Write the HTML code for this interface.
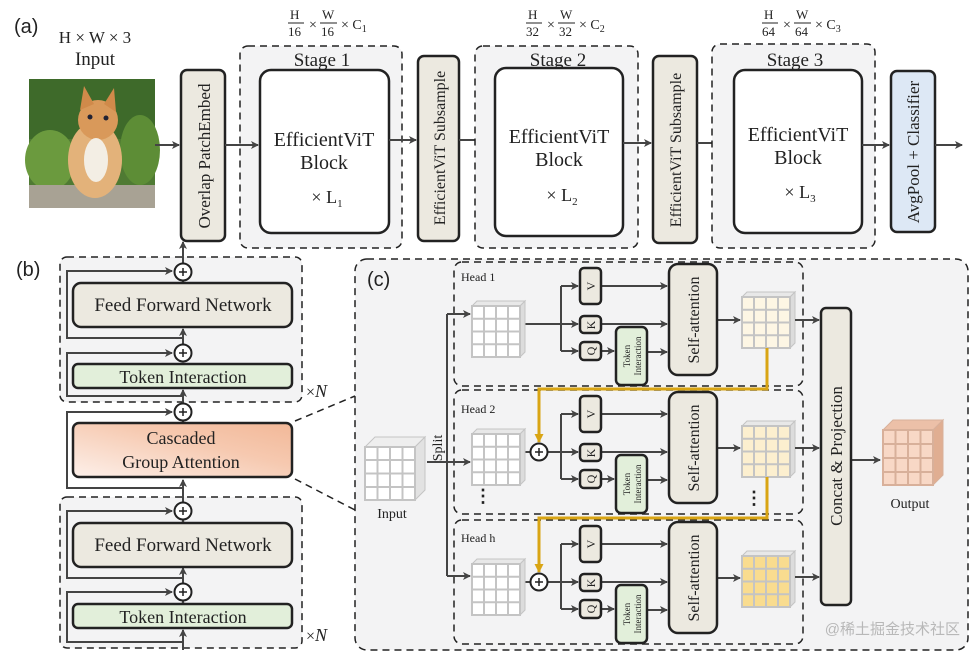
<!DOCTYPE html>
<html><head><meta charset="utf-8"><style>
html,body{margin:0;padding:0;background:#fff;}
svg{display:block;}
.s{font-family:"Liberation Serif",serif;fill:#222;}
.a{font-family:"Liberation Sans",sans-serif;fill:#222;}
</style></head><body>
<svg width="977" height="655" viewBox="0 0 977 655" xmlns="http://www.w3.org/2000/svg">
<defs>
<marker id="ar" markerWidth="8" markerHeight="8" refX="7" refY="4" orient="auto" markerUnits="userSpaceOnUse"><path d="M0,0 L8,4 L0,8 L2,4 z" fill="#444"/></marker>
<marker id="ag" markerWidth="9" markerHeight="9" refX="8" refY="4.5" orient="auto" markerUnits="userSpaceOnUse"><path d="M0,0 L9,4.5 L0,9 z" fill="#d9a514"/></marker>
<g id="cube">
<path d="M0,5 L5,0 L53,0 L48,5 z" fill="#e8e8e8" stroke="#c4c4c4" stroke-width="1"/>
<path d="M48,5 L53,0 L53,51 L48,56 z" fill="#dcdcdc" stroke="#c4c4c4" stroke-width="1"/>
<rect x="0" y="5" width="48" height="51" stroke="#c4c4c4" stroke-width="2"/>
<path d="M12,5V56M24,5V56M36,5V56M0,17.75H48M0,30.5H48M0,43.25H48" stroke="#c4c4c4" stroke-width="2" fill="none"/>
</g>
<linearGradient id="cga" x1="0" y1="1" x2="1" y2="0"><stop offset="0" stop-color="#fdf0ea"/><stop offset="0.6" stop-color="#f6c9b0"/><stop offset="1" stop-color="#f2b898"/></linearGradient>
<g id="plus"><circle r="8.5" fill="#fff" stroke="#222" stroke-width="2"/><path d="M-4,0H4M0,-4V4" stroke="#222" stroke-width="1.5"/></g>
</defs>

<!-- (a) -->
<text x="14" y="33" class="a" font-size="20">(a)</text>
<text x="95" y="43" class="s" font-size="17" text-anchor="middle">H × W × 3</text>
<text x="95" y="65" class="s" font-size="19" text-anchor="middle">Input</text>
<rect x="29" y="79" width="126" height="129" fill="#4f7a33"/>
<rect x="29" y="79" width="126" height="60" fill="#3e6a2a"/>
<ellipse cx="50" cy="160" rx="25" ry="30" fill="#6b9a3e"/>
<ellipse cx="140" cy="150" rx="20" ry="35" fill="#5d8d36"/>
<rect x="29" y="185" width="126" height="23" fill="#a8a294"/>
<ellipse cx="95" cy="160" rx="27" ry="38" fill="#e3b27a"/>
<ellipse cx="98" cy="120" rx="20" ry="20" fill="#d9995a"/>
<path d="M80,110 L84,86 L94,104 z M104,104 L114,88 L116,112 z" fill="#d08a4a"/>
<ellipse cx="96" cy="160" rx="12" ry="22" fill="#f3eee4"/>
<circle cx="90" cy="117" r="2.5" fill="#223"/><circle cx="106" cy="118" r="2.5" fill="#223"/>

<path d="M155,145H179" stroke="#444" stroke-width="2" marker-end="url(#ar)"/>
<rect x="181" y="70" width="44" height="171" rx="6" fill="#ece9e0" stroke="#222" stroke-width="2.5"/>
<text transform="translate(210,156) rotate(-90)" class="s" font-size="17" text-anchor="middle">Overlap PatchEmbed</text>

<rect x="240" y="46" width="162" height="202" rx="8" fill="#f3f3f4" stroke="#222" stroke-width="1.5" stroke-dasharray="7,5"/>
<text x="322" y="66" class="s" font-size="19" text-anchor="middle">Stage 1</text>
<rect x="260" y="70" width="129" height="163" rx="11" fill="#fff" stroke="#222" stroke-width="2.5"/>
<text x="324" y="146" class="s" font-size="20" text-anchor="middle">EfficientViT</text>
<text x="324" y="169" class="s" font-size="20" text-anchor="middle">Block</text>
<text x="327" y="203" class="s" font-size="18" text-anchor="middle">× L<tspan font-size="11" dy="4">1</tspan></text>
<path d="M225,145H258" stroke="#444" stroke-width="2" marker-end="url(#ar)"/>
<path d="M389,140H416" stroke="#444" stroke-width="2" marker-end="url(#ar)"/>

<rect x="418" y="56" width="41" height="185" rx="6" fill="#ece9e0" stroke="#222" stroke-width="2.5"/>
<text transform="translate(445,148) rotate(-90)" class="s" font-size="16" text-anchor="middle">EfficientViT Subsample</text>
<path d="M459,140H493" stroke="#444" stroke-width="2" marker-end="url(#ar)"/>

<rect x="475" y="46" width="163" height="202" rx="8" fill="#f3f3f4" stroke="#222" stroke-width="1.5" stroke-dasharray="7,5"/>
<text x="558" y="66" class="s" font-size="19" text-anchor="middle">Stage 2</text>
<rect x="495" y="68" width="128" height="168" rx="11" fill="#fff" stroke="#222" stroke-width="2.5"/>
<text x="559" y="143" class="s" font-size="20" text-anchor="middle">EfficientViT</text>
<text x="559" y="166" class="s" font-size="20" text-anchor="middle">Block</text>
<text x="562" y="201" class="s" font-size="18" text-anchor="middle">× L<tspan font-size="11" dy="4">2</tspan></text>
<path d="M623,143H651" stroke="#444" stroke-width="2" marker-end="url(#ar)"/>

<rect x="653" y="56" width="44" height="187" rx="6" fill="#ece9e0" stroke="#222" stroke-width="2.5"/>
<text transform="translate(681,150) rotate(-90)" class="s" font-size="16" text-anchor="middle">EfficientViT Subsample</text>
<path d="M697,143H732" stroke="#444" stroke-width="2" marker-end="url(#ar)"/>

<rect x="712" y="44" width="163" height="204" rx="8" fill="#f3f3f4" stroke="#222" stroke-width="1.5" stroke-dasharray="7,5"/>
<text x="795" y="66" class="s" font-size="19" text-anchor="middle">Stage 3</text>
<rect x="734" y="70" width="128" height="163" rx="11" fill="#fff" stroke="#222" stroke-width="2.5"/>
<text x="798" y="141" class="s" font-size="20" text-anchor="middle">EfficientViT</text>
<text x="798" y="164" class="s" font-size="20" text-anchor="middle">Block</text>
<text x="800" y="198" class="s" font-size="18" text-anchor="middle">× L<tspan font-size="11" dy="4">3</tspan></text>
<path d="M862,145H889" stroke="#444" stroke-width="2" marker-end="url(#ar)"/>
<rect x="891" y="71" width="44" height="161" rx="6" fill="#dde8f5" stroke="#222" stroke-width="2.5"/>
<text transform="translate(919,152) rotate(-90)" class="s" font-size="17" text-anchor="middle">AvgPool + Classifier</text>
<path d="M935,145H962" stroke="#444" stroke-width="2" marker-end="url(#ar)"/>

<g class="s" font-size="13">
<g transform="translate(290,0)"><text x="0" y="19">H</text><line x1="-2" y1="23" x2="14" y2="23" stroke="#222"/><text x="-2" y="36">16</text><text x="19" y="29" font-size="14">×</text>
<text x="32" y="19">W</text><line x1="30" y1="23" x2="47" y2="23" stroke="#222"/><text x="31" y="36">16</text><text x="51" y="29" font-size="14">× C<tspan font-size="10" dy="3">1</tspan></text></g>
<g transform="translate(528,0)"><text x="0" y="19">H</text><line x1="-2" y1="23" x2="14" y2="23" stroke="#222"/><text x="-2" y="36">32</text><text x="19" y="29" font-size="14">×</text>
<text x="32" y="19">W</text><line x1="30" y1="23" x2="47" y2="23" stroke="#222"/><text x="31" y="36">32</text><text x="51" y="29" font-size="14">× C<tspan font-size="10" dy="3">2</tspan></text></g>
<g transform="translate(764,0)"><text x="0" y="19">H</text><line x1="-2" y1="23" x2="14" y2="23" stroke="#222"/><text x="-2" y="36">64</text><text x="19" y="29" font-size="14">×</text>
<text x="32" y="19">W</text><line x1="30" y1="23" x2="47" y2="23" stroke="#222"/><text x="31" y="36">64</text><text x="51" y="29" font-size="14">× C<tspan font-size="10" dy="3">3</tspan></text></g>
</g>

<!-- (b) -->
<text x="16" y="276" class="a" font-size="20">(b)</text>
<rect x="60" y="257" width="242" height="145" rx="7" fill="#f3f3f4" stroke="#222" stroke-width="1.5" stroke-dasharray="7,5"/>
<rect x="60" y="497" width="242" height="151" rx="7" fill="#f3f3f4" stroke="#222" stroke-width="1.5" stroke-dasharray="7,5"/>
<g stroke="#444" stroke-width="2" fill="none">
<path d="M183,396H67V353H172" marker-end="url(#ar)"/>
<path d="M183,338H67V271H172" marker-end="url(#ar)"/>
<path d="M183,488H67V412H172" marker-end="url(#ar)"/>
<path d="M183,578H67V511H172" marker-end="url(#ar)"/>
<path d="M183,642H67V592H172" marker-end="url(#ar)"/>
<path d="M183,650V630" marker-end="url(#ar)"/>
<path d="M183,604V601" marker-end="url(#ar)"/>
<path d="M183,584V568" marker-end="url(#ar)"/>
<path d="M183,523V520" marker-end="url(#ar)"/>
<path d="M183,503V480" marker-end="url(#ar)"/>
<path d="M183,423V421" marker-end="url(#ar)"/>
<path d="M183,404V390" marker-end="url(#ar)"/>
<path d="M183,344V329" marker-end="url(#ar)"/>
<path d="M183,388V363" marker-end="url(#ar)"/>
<path d="M183,283V281" marker-end="url(#ar)"/>
<path d="M183,263V242" marker-end="url(#ar)"/>
</g>
<rect x="73" y="283" width="219" height="44" rx="8" fill="#ece9e0" stroke="#222" stroke-width="2.5"/>
<text x="183" y="311" class="s" font-size="19" text-anchor="middle">Feed Forward Network</text>
<rect x="73" y="364" width="219" height="24" rx="5" fill="#e2efda" stroke="#222" stroke-width="2.5"/>
<text x="183" y="383" class="s" font-size="18" text-anchor="middle">Token Interaction</text>
<rect x="73" y="423" width="219" height="54" rx="6" fill="url(#cga)" stroke="#222" stroke-width="2.5"/>
<text x="181" y="444" class="s" font-size="18" text-anchor="middle">Cascaded</text>
<text x="181" y="468" class="s" font-size="18" text-anchor="middle">Group Attention</text>
<rect x="73" y="523" width="219" height="44" rx="8" fill="#ece9e0" stroke="#222" stroke-width="2.5"/>
<text x="183" y="551" class="s" font-size="19" text-anchor="middle">Feed Forward Network</text>
<rect x="73" y="604" width="219" height="24" rx="5" fill="#e2efda" stroke="#222" stroke-width="2.5"/>
<text x="183" y="623" class="s" font-size="18" text-anchor="middle">Token Interaction</text>
<use href="#plus" x="183" y="272"/><use href="#plus" x="183" y="353"/><use href="#plus" x="183" y="412"/>
<use href="#plus" x="183" y="511"/><use href="#plus" x="183" y="592"/>
<text x="306" y="397" class="s" font-size="16">×<tspan font-style="italic" font-size="18">N</tspan></text>
<text x="306" y="641" class="s" font-size="16">×<tspan font-style="italic" font-size="18">N</tspan></text>
<path d="M295,421L355,396M295,479L355,510" stroke="#222" stroke-width="1.5" stroke-dasharray="7,5"/>

<!-- (c) -->
<rect x="355" y="259" width="613" height="391" rx="12" fill="#f3f3f4" stroke="#222" stroke-width="1.5" stroke-dasharray="7,5"/>
<text x="367" y="286" class="a" font-size="20">(c)</text>

<g id="head">
<rect x="454" y="262" width="349" height="124" rx="8" fill="none" stroke="#222" stroke-width="1.5" stroke-dasharray="7,5"/>
<g stroke="#444" stroke-width="2" fill="none">
<path d="M525,324H578" marker-end="url(#ar)"/>
<path d="M561,286V351"/>
<path d="M561,286H578" marker-end="url(#ar)"/>
<path d="M561,351H578" marker-end="url(#ar)"/>
<path d="M601,286H667" marker-end="url(#ar)"/>
<path d="M601,324H667" marker-end="url(#ar)"/>
<path d="M601,351H614" marker-end="url(#ar)"/>
<path d="M647,352H667" marker-end="url(#ar)"/>
<path d="M717,320H740" marker-end="url(#ar)"/>
</g>
<rect x="580" y="268" width="21" height="36" rx="4" fill="#ece9e0" stroke="#222" stroke-width="2.5"/>
<text transform="translate(595,286) rotate(-90)" class="s" font-size="12" text-anchor="middle">V</text>
<rect x="580" y="316" width="21" height="17" rx="4" fill="#ece9e0" stroke="#222" stroke-width="2.5"/>
<text transform="translate(595,325) rotate(-90)" class="s" font-size="12" text-anchor="middle">K</text>
<rect x="580" y="342" width="21" height="18" rx="4" fill="#ece9e0" stroke="#222" stroke-width="2.5"/>
<text transform="translate(595,351) rotate(-90)" class="s" font-size="12" text-anchor="middle">Q</text>
<rect x="616" y="327" width="31" height="58" rx="5" fill="#e2efda" stroke="#222" stroke-width="2.5"/>
<text transform="translate(630,356) rotate(-90)" class="s" font-size="9" text-anchor="middle">Token</text>
<text transform="translate(641,356) rotate(-90)" class="s" font-size="9" text-anchor="middle">Interaction</text>
<rect x="669" y="264" width="48" height="111" rx="9" fill="#ece9e0" stroke="#222" stroke-width="2.5"/>
<text transform="translate(699,320) rotate(-90)" class="s" font-size="16" text-anchor="middle">Self-attention</text>
<use href="#cube" x="472" y="301" fill="#fff"/>
</g>
<text x="461" y="281" class="s" font-size="12">Head 1</text>
<use href="#head" y="128"/>
<use href="#head" y="258"/>
<text x="461" y="413" class="s" font-size="12">Head 2</text>
<text x="461" y="542" class="s" font-size="12">Head h</text>
<use href="#cube" x="742" y="292" fill="#fdf6e4"/>
<use href="#cube" x="742" y="421" fill="#fcefcf"/>
<use href="#cube" x="742" y="551" fill="#f9dc8f"/>
<use href="#plus" x="539" y="452"/>
<use href="#plus" x="539" y="582"/>
<text x="483" y="502" class="s" font-size="18" text-anchor="middle" font-weight="bold">⋮</text>
<text x="754" y="504" class="s" font-size="18" text-anchor="middle" font-weight="bold">⋮</text>
<path d="M767,348V389H539V442" stroke="#d9a514" stroke-width="3" fill="none" marker-end="url(#ag)"/>
<path d="M767,477V518H539V572" stroke="#d9a514" stroke-width="3" fill="none" marker-end="url(#ag)"/>
<g transform="translate(365,437)">
<path d="M0,10 L10,0 L60,0 L50,10 z" fill="#eee" stroke="#c4c4c4"/>
<path d="M50,10 L60,0 L60,53 L50,63 z" fill="#e2e2e2" stroke="#c4c4c4"/>
<rect x="0" y="10" width="50" height="53" fill="#fff" stroke="#c4c4c4" stroke-width="2"/>
<path d="M12.5,10V63M25,10V63M37.5,10V63M0,23H50M0,36.5H50M0,50H50" stroke="#c4c4c4" stroke-width="2"/>
</g>
<text x="392" y="518" class="s" font-size="14" text-anchor="middle">Input</text>
<g stroke="#444" stroke-width="2" fill="none">
<path d="M427,462H470" marker-end="url(#ar)"/>
<path d="M447,314V576"/>
<path d="M447,314H470" marker-end="url(#ar)"/>
<path d="M447,576H470" marker-end="url(#ar)"/>
<path d="M795,320H819" marker-end="url(#ar)"/>
<path d="M795,448H819" marker-end="url(#ar)"/>
<path d="M795,577H819" marker-end="url(#ar)"/>
<path d="M851,460H880" marker-end="url(#ar)"/>
</g>
<text transform="translate(442,448) rotate(-90)" class="s" font-size="14" text-anchor="middle">Split</text>
<rect x="821" y="308" width="30" height="297" rx="5" fill="#ece9e0" stroke="#222" stroke-width="2.5"/>
<text transform="translate(842,456) rotate(-90)" class="s" font-size="17" text-anchor="middle">Concat &amp; Projection</text>
<g transform="translate(883,420)">
<path d="M0,10 L10,0 L60,0 L50,10 z" fill="#ecc0a8" stroke="#d8b09a"/>
<path d="M50,10 L60,0 L60,55 L50,65 z" fill="#e0ae92" stroke="#d8b09a"/>
<rect x="0" y="10" width="50" height="55" fill="#f8d8c6" stroke="#d8b09a" stroke-width="2"/>
<path d="M12.5,10V65M25,10V65M37.5,10V65M0,24H50M0,38H50M0,52H50" stroke="#d8b09a" stroke-width="2"/>
</g>
<text x="910" y="508" class="s" font-size="14" text-anchor="middle">Output</text>
<text x="960" y="634" font-family="'Liberation Sans','Noto Sans CJK SC',sans-serif" font-size="15" fill="#b8b8b8" text-anchor="end">@稀土掘金技术社区</text>
</svg>
</body></html>
